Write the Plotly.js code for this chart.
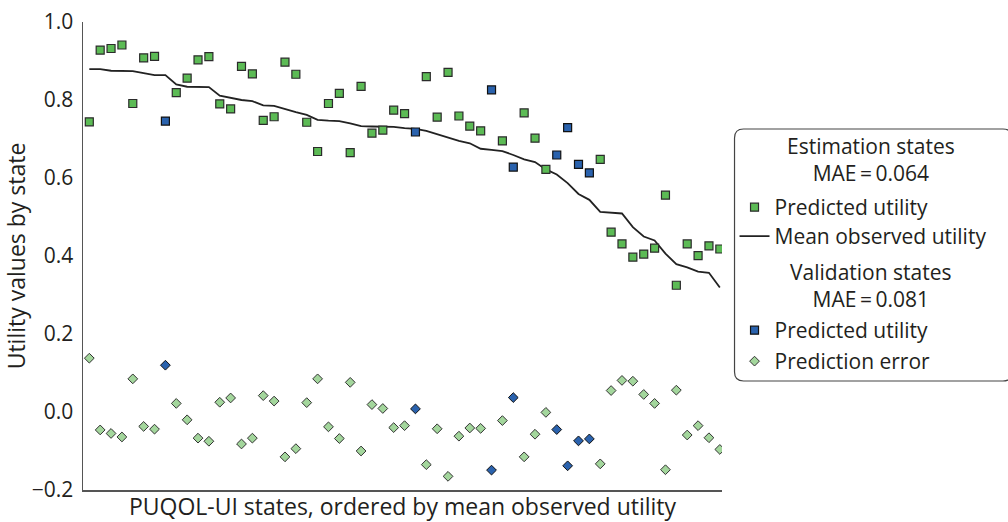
<!DOCTYPE html>
<html><head><meta charset="utf-8">
<script src="https://cdn.plot.ly/plotly-3.0.1.min.js"></script>
<style>html,body{margin:0;padding:0;background:#fff}#chart{width:1008px;height:522px}</style>
</head><body><div id="chart"></div>
<script>
// States ordered by mean observed utility
const states = [1,2,3,4,5,6,7,8,9,10,11,12,13,14,15,16,17,18,19,20,21,22,23,24,25,26,27,28,29,30,
  31,32,33,34,35,36,37,38,39,40,41,42,43,44,45,46,47,48,49,50,51,52,53,54,55,56,57,58,59];
// E = estimation state, V = validation state
const stateSet = ['E','E','E','E','E','E','E','V','E','E','E','E','E','E','E','E','E','E','E','E',
  'E','E','E','E','E','E','E','E','E','E','V','E','E','E','E','E','E','V','E','V',
  'E','E','E','V','V','V','V','E','E','E','E','E','E','E','E','E','E','E','E'];
const meanObserved = [0.879,0.879,0.875,0.874,0.874,0.869,0.864,0.864,0.840,0.834,
  0.833,0.833,0.811,0.806,0.800,0.797,0.786,0.785,0.776,0.769,
  0.762,0.749,0.747,0.746,0.740,0.733,0.732,0.731,0.731,0.728,
  0.726,0.721,0.712,0.704,0.695,0.689,0.675,0.672,0.669,0.659,
  0.648,0.641,0.622,0.609,0.587,0.559,0.544,0.513,0.511,0.509,
  0.474,0.450,0.440,0.406,0.379,0.371,0.360,0.357,0.319];
const predicted = [0.744,0.928,0.932,0.941,0.791,0.908,0.912,0.746,0.819,0.856,
  0.903,0.911,0.790,0.777,0.886,0.867,0.748,0.757,0.897,0.866,
  0.743,0.668,0.791,0.817,0.665,0.835,0.715,0.723,0.774,0.765,
  0.718,0.860,0.756,0.871,0.759,0.733,0.721,0.826,0.695,0.628,
  0.767,0.702,0.622,0.659,0.729,0.635,0.613,0.648,0.461,0.431,
  0.397,0.405,0.420,0.556,0.325,0.431,0.401,0.426,0.418];
const predictionError = [0.138,-0.046,-0.055,-0.064,0.085,-0.037,-0.044,0.120,0.022,-0.020,
  -0.067,-0.075,0.025,0.036,-0.082,-0.067,0.042,0.028,-0.115,-0.094,
  0.024,0.085,-0.038,-0.068,0.076,-0.100,0.019,0.009,-0.040,-0.035,
  0.008,-0.135,-0.043,-0.165,-0.062,-0.041,-0.042,-0.149,-0.022,0.037,
  -0.115,-0.057,-0.001,-0.045,-0.138,-0.074,-0.069,-0.133,0.055,0.081,
  0.079,0.045,0.022,-0.148,0.056,-0.059,-0.035,-0.066,-0.096];
const yTicks = [-0.2,0.0,0.2,0.4,0.6,0.8,1.0];
const estHeading = 'Estimation states<br>MAE\u2009=\u20090.064';
const valHeading = 'Validation states<br>MAE\u2009=\u20090.081';

function pick(arr, set){ return arr.filter((v,i)=>stateSet[i]===set); }

const FONT = 'Open Sans, Noto Sans, sans-serif';
const TXT = '#231f20';
const GREEN = '#5cbb55', BLUE = '#2a62ad', LGREEN = '#a3d69c', EDGE = '#2b2b2b';
const FS = 21;   // legend text
const FA = 23;   // axis titles

const traces = [
  {x: states, y: meanObserved, type:'scatter', mode:'lines', name:'Mean observed utility',
   legend:'legend2', line:{color:'#222', width:1.8}},
  {x: pick(states,'E'), y: pick(predicted,'E'), type:'scatter', mode:'markers', name:'Predicted utility',
   legend:'legend',
   marker:{symbol:'square', size:8, color:GREEN, line:{color:EDGE, width:1.2}}},
  {x: pick(states,'V'), y: pick(predicted,'V'), type:'scatter', mode:'markers', name:'Predicted utility',
   legend:'legend3',
   marker:{symbol:'square', size:8, color:BLUE, line:{color:'#111', width:1.2}}},
  {x: pick(states,'E'), y: pick(predictionError,'E'), type:'scatter', mode:'markers', name:'Prediction error',
   legend:'legend4',
   marker:{symbol:'diamond', size:7.5, color:LGREEN, line:{color:'#333', width:1}}},
  {x: pick(states,'V'), y: pick(predictionError,'V'), type:'scatter', mode:'markers', name:'Prediction error (validation)',
   legend:'legend4', showlegend:false,
   marker:{symbol:'diamond', size:7.5, color:BLUE, line:{color:'#111', width:1}}}
];

// rounded legend frame (paper coordinates)
const L=1.0196, R=1.4538, T=0.7714, B=0.2329, rx=0.0141, ry=0.0192;
const framePath = `M ${L+rx},${T} L ${R-rx},${T} Q ${R},${T} ${R},${T-ry} L ${R},${B+ry} Q ${R},${B} ${R-rx},${B} L ${L+rx},${B} Q ${L},${B} ${L},${B+ry} L ${L},${T-ry} Q ${L},${T} ${L+rx},${T} Z`;

function py(px){ return (490-px)/468; }
const headX = (871-83)/639;
const head = (text, ypx) => ({xref:'paper', yref:'paper', x:headX, y:py(ypx), xanchor:'center', yanchor:'middle',
  text:text, showarrow:false, align:'center', borderpad:0, font:{size:FS, color:TXT}});

const OFF = 19; // legend top to item centre (px)
const leg = (ypx) => ({x:1.0196, xanchor:'left', y:py(ypx-OFF), yanchor:'top', bgcolor:'rgba(0,0,0,0)', borderwidth:0,
  font:{size:FS, color:TXT}});

const layout = {
  width:1008, height:522,
  margin:{l:83, r:286, t:22, b:32, autoexpand:false},
  paper_bgcolor:'#fff', plot_bgcolor:'#fff',
  font:{family:FONT, size:FS, color:TXT},
  showlegend:true,
  xaxis:{range:[0.42,59.2], showline:true, linecolor:'#555', linewidth:1.5, showgrid:false, zeroline:false,
    showticklabels:false, ticks:'', fixedrange:true,
    title:{text:'PUQOL-UI states, ordered by mean observed utility', font:{size:FA, color:TXT}, standoff:10}},
  yaxis:{range:[-0.2,1.0], tickvals:yTicks, tickformat:'.1f', showline:true, linecolor:'#555', linewidth:1.5,
    showgrid:false, zeroline:false, ticks:'outside', ticklen:4, tickcolor:'rgba(0,0,0,0)',
    tickfont:{size:21, color:TXT},
    title:{text:'Utility values by state', font:{size:FA, color:TXT}, standoff:8}},
  legend: leg(206),
  legend2: leg(235),
  legend3: leg(329),
  legend4: leg(360),
  shapes:[{type:'path', xref:'paper', yref:'paper', path:framePath, line:{color:'#444', width:1.2}, fillcolor:'rgba(0,0,0,0)'}],
  annotations:[head(estHeading,160), head(valHeading,285)]
};

Plotly.newPlot('chart', traces, layout, {displayModeBar:false, staticPlot:true});
</script></body></html>
